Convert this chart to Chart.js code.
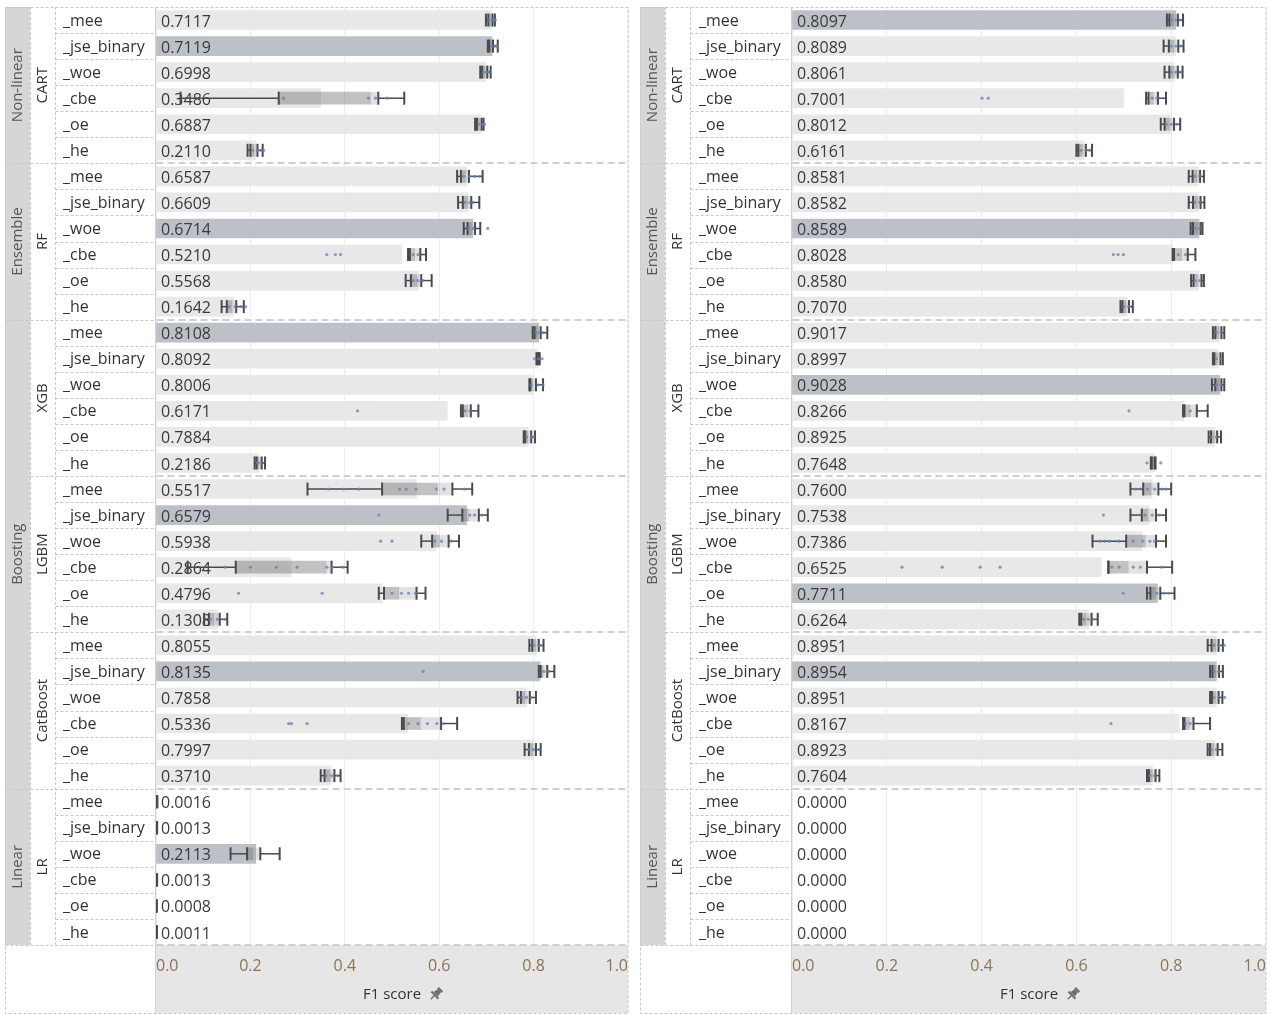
<!DOCTYPE html>
<html>
<head>
<meta charset="utf-8">
<script src="https://cdn.jsdelivr.net/npm/chart.js@4.4.1/dist/chart.umd.min.js"></script>
<style>
  html, body { margin: 0; padding: 0; background: #fff; }
  body { width: 1271px; height: 1015px; position: relative; overflow: hidden; }
  .panel { position: absolute; top: 0; }
  #leftPanel { left: 0; }
  #rightPanel { left: 634px; }
</style>
</head>
<body>
<div class="panel" id="leftPanel"><canvas id="chartLeft" width="634" height="1015"></canvas></div>
<div class="panel" id="rightPanel"><canvas id="chartRight" width="637" height="1015"></canvas></div>
<script>
// ---- data ----------------------------------------------------------------
const encodings = ['_mee', '_jse_binary', '_woe', '_cbe', '_oe', '_he'];
const models = ['CART', 'RF', 'XGB', 'LGBM', 'CatBoost', 'LR'];
const families = ['Non-linear', 'Ensemble', 'Boosting', 'Linear'];
const familyModelCounts = [1, 1, 3, 1];
const xTicks = [0, 0.2, 0.4, 0.6, 0.8, 1.0];
const axisTitle = 'F1 score';

// mean F1 per model / encoding (left and right panels)
const meanLeft = [
  0.7117, 0.7119, 0.6998, 0.3486, 0.6887, 0.2110,
  0.6587, 0.6609, 0.6714, 0.5210, 0.5568, 0.1642,
  0.8108, 0.8092, 0.8006, 0.6171, 0.7884, 0.2186,
  0.5517, 0.6579, 0.5938, 0.2864, 0.4796, 0.1308,
  0.8055, 0.8135, 0.7858, 0.5336, 0.7997, 0.3710,
  0.0016, 0.0013, 0.2113, 0.0013, 0.0008, 0.0011
];
const meanRight = [
  0.8097, 0.8089, 0.8061, 0.7001, 0.8012, 0.6161,
  0.8581, 0.8582, 0.8589, 0.8028, 0.8580, 0.7070,
  0.9017, 0.8997, 0.9028, 0.8266, 0.8925, 0.7648,
  0.7600, 0.7538, 0.7386, 0.6525, 0.7711, 0.6264,
  0.8951, 0.8954, 0.8951, 0.8167, 0.8923, 0.7604,
  0.0000, 0.0000, 0.0000, 0.0000, 0.0000, 0.0000
];

// box plot summaries: [whisker low, q1, median, q3, whisker high]
const boxLeft = [
  [0.699, 0.704, 0.709, 0.713, 0.718], [0.703, 0.706, 0.710, 0.714, 0.724], [0.687, 0.691, 0.697, 0.702, 0.709],
  [0.052, 0.260, 0.454, 0.471, 0.526], [0.676, 0.680, 0.685, 0.690, 0.694], [0.194, 0.200, 0.207, 0.215, 0.226],
  [0.638, 0.646, 0.655, 0.663, 0.692], [0.640, 0.650, 0.660, 0.668, 0.685], [0.652, 0.660, 0.668, 0.676, 0.687],
  [0.534, 0.538, 0.548, 0.560, 0.572], [0.529, 0.540, 0.552, 0.562, 0.584], [0.139, 0.150, 0.160, 0.170, 0.186],
  [0.798, 0.802, 0.808, 0.815, 0.829], [0.806, 0.808, 0.809, 0.811, 0.813], [0.791, 0.793, 0.797, 0.805, 0.820],
  [0.646, 0.650, 0.660, 0.667, 0.683], [0.779, 0.782, 0.788, 0.795, 0.803], [0.209, 0.213, 0.218, 0.224, 0.231],
  [0.321, 0.479, 0.596, 0.628, 0.670], [0.618, 0.649, 0.662, 0.684, 0.703], [0.562, 0.585, 0.600, 0.620, 0.642],
  [0.067, 0.169, 0.360, 0.372, 0.406], [0.472, 0.483, 0.514, 0.552, 0.571], [0.102, 0.112, 0.122, 0.135, 0.151],
  [0.791, 0.797, 0.804, 0.811, 0.821], [0.811, 0.815, 0.820, 0.829, 0.844], [0.766, 0.773, 0.781, 0.792, 0.805],
  [0.521, 0.525, 0.560, 0.604, 0.638], [0.781, 0.790, 0.798, 0.805, 0.815], [0.349, 0.357, 0.368, 0.378, 0.391],
  [0.0008, 0.0012, 0.0016, 0.0020, 0.0030], [0.0005, 0.0009, 0.0013, 0.0017, 0.0025], [0.158, 0.193, 0.205, 0.221, 0.262],
  [0.0005, 0.0009, 0.0013, 0.0017, 0.0024], [0.0002, 0.0005, 0.0008, 0.0011, 0.0016], [0.0004, 0.0008, 0.0011, 0.0014, 0.0020]
];
const boxRight = [
  [0.791, 0.796, 0.805, 0.814, 0.825], [0.784, 0.795, 0.805, 0.815, 0.826], [0.786, 0.796, 0.806, 0.814, 0.824],
  [0.747, 0.752, 0.762, 0.772, 0.789], [0.778, 0.786, 0.796, 0.806, 0.819], [0.600, 0.604, 0.612, 0.620, 0.633],
  [0.837, 0.845, 0.854, 0.861, 0.869], [0.837, 0.846, 0.855, 0.862, 0.870], [0.841, 0.846, 0.856, 0.862, 0.866],
  [0.803, 0.806, 0.822, 0.835, 0.851], [0.842, 0.847, 0.855, 0.864, 0.869], [0.693, 0.697, 0.704, 0.711, 0.719],
  [0.888, 0.893, 0.900, 0.906, 0.912], [0.888, 0.891, 0.897, 0.904, 0.909], [0.886, 0.893, 0.901, 0.906, 0.912],
  [0.825, 0.828, 0.840, 0.854, 0.877], [0.879, 0.884, 0.890, 0.897, 0.905], [0.757, 0.759, 0.762, 0.765, 0.767],
  [0.714, 0.741, 0.757, 0.773, 0.800], [0.714, 0.738, 0.750, 0.768, 0.789], [0.634, 0.705, 0.745, 0.768, 0.789],
  [0.667, 0.668, 0.709, 0.749, 0.802], [0.749, 0.756, 0.766, 0.777, 0.807], [0.606, 0.610, 0.620, 0.632, 0.645],
  [0.877, 0.885, 0.894, 0.900, 0.909], [0.882, 0.887, 0.894, 0.901, 0.909], [0.882, 0.886, 0.893, 0.900, 0.908],
  [0.825, 0.828, 0.838, 0.847, 0.882], [0.877, 0.882, 0.889, 0.898, 0.908], [0.749, 0.753, 0.760, 0.767, 0.775],
  null, null, null, null, null, null
];

// individual run scores
const runsLeft = [
  [0.705, 0.712, 0.716, 0.719], [0.712, 0.718, 0.722], [0.694, 0.700, 0.706],
  [0.270, 0.450, 0.465, 0.490], [0.684, 0.692, 0.696], [0.205, 0.215, 0.222, 0.228],
  [0.652, 0.665, 0.675, 0.685], [0.655, 0.665, 0.672], [0.662, 0.672, 0.703],
  [0.362, 0.380, 0.391, 0.545, 0.555], [0.545, 0.555, 0.565], [0.155, 0.168, 0.180, 0.190],
  [0.805, 0.812, 0.820], [0.802, 0.810, 0.818], [0.795, 0.810, 0.820],
  [0.427, 0.655, 0.665], [0.785, 0.795, 0.800], [0.215, 0.222],
  [0.365, 0.398, 0.430, 0.516, 0.530, 0.551, 0.594, 0.610, 0.653], [0.472, 0.665, 0.675, 0.690], [0.476, 0.500, 0.590, 0.605, 0.625],
  [0.147, 0.200, 0.255, 0.299, 0.362, 0.373, 0.396], [0.175, 0.352, 0.500, 0.520, 0.535, 0.550], [0.115, 0.130, 0.145],
  [0.800, 0.810, 0.815], [0.566, 0.822, 0.832], [0.775, 0.785, 0.795],
  [0.281, 0.287, 0.320, 0.535, 0.555, 0.575, 0.595, 0.610], [0.790, 0.800, 0.812], [0.360, 0.372, 0.385],
  [], [], [], [], [], []
];
const runsRight = [
  [0.800, 0.810, 0.820], [0.800, 0.810, 0.820], [0.800, 0.810, 0.820],
  [0.401, 0.414, 0.760, 0.770], [0.790, 0.800, 0.812], [0.610, 0.620, 0.628],
  [0.850, 0.860], [0.850, 0.860], [0.850, 0.860],
  [0.678, 0.688, 0.699, 0.815, 0.830], [0.850, 0.860], [0.700, 0.710],
  [0.895, 0.905], [0.895, 0.905], [0.895, 0.905],
  [0.711, 0.840], [0.885, 0.895], [0.749, 0.778],
  [0.725, 0.735, 0.750, 0.765, 0.780, 0.790], [0.657, 0.745, 0.760, 0.775], [0.650, 0.660, 0.670, 0.690, 0.720, 0.740, 0.755, 0.765],
  [0.232, 0.317, 0.397, 0.439, 0.675, 0.690, 0.720, 0.735, 0.780], [0.699, 0.770, 0.785, 0.795], [0.615, 0.625, 0.635],
  [0.890, 0.900, 0.912], [0.890, 0.900], [0.890, 0.900, 0.913],
  [0.673, 0.830, 0.840], [0.885, 0.895], [0.755, 0.765],
  [], [], [], [], [], []
];

// ---- drawing -------------------------------------------------------------
const FONT = '"Open Sans", sans-serif';
const rowKeys = models.flatMap(m => encodings.map(e => m + e));

function bestRows(values) {
  const best = new Set();
  for (let m = 0; m < models.length; m++) {
    const block = values.slice(m * encodings.length, (m + 1) * encodings.length);
    const top = Math.max(...block);
    if (top > 0) best.add(m * encodings.length + block.indexOf(top));
  }
  return best;
}

function strokeLine(ctx, x1, y1, x2, y2) {
  ctx.beginPath(); ctx.moveTo(x1, y1); ctx.lineTo(x2, y2); ctx.stroke();
}

const tablePlugin = {
  id: 'tableLayout',
  beforeDraw(chart, args, opts) {
    const { ctx, chartArea, scales: { x } } = chart;
    const g = opts.geo;
    ctx.save();
    ctx.fillStyle = '#d6d6d6';
    ctx.fillRect(g.border, chartArea.top, 25, chartArea.bottom - chartArea.top);
    ctx.fillStyle = '#e6e6e6';
    ctx.fillRect(chartArea.left, chartArea.bottom, chartArea.right - chartArea.left, x.bottom - chartArea.bottom);
    ctx.restore();
  },
  afterDatasetDraw(chart, args, opts) {
    const { ctx, scales: { x, y } } = chart;
    const label = chart.data.datasets[args.index].label;
    if (label === 'mean') {
      // value labels sit inside the bar, left aligned
      ctx.save();
      ctx.font = '16px ' + FONT;
      ctx.fillStyle = '#3a3a3a';
      ctx.textBaseline = 'middle';
      ctx.textAlign = 'left';
      opts.means.forEach((v, i) => {
        ctx.fillText(v.toFixed(4), x.left + 5, y.getPixelForValue(i) + 2);
      });
      ctx.restore();
    }
    if (label === 'upper') {
      // whiskers and caps of each box plot
      ctx.save();
      ctx.strokeStyle = '#4a4a4a';
      opts.boxes.forEach((b, i) => {
        if (!b) return;
        const yc = y.getPixelForValue(i);
        const px = b.map(v => x.getPixelForValue(v));
        ctx.lineWidth = 1.5;
        strokeLine(ctx, px[0], yc, px[1], yc);
        strokeLine(ctx, px[3], yc, px[4], yc);
        ctx.lineWidth = 2;
        [px[0], px[1], px[3], px[4]].forEach(cx => strokeLine(ctx, cx, yc - 6.5, cx, yc + 6.5));
      });
      ctx.restore();
    }
  },
  afterDraw(chart, args, opts) {
    const { ctx, chartArea, scales: { x } } = chart;
    const g = opts.geo;
    const top = chartArea.top, bottom = chartArea.bottom;
    const rowH = (bottom - top) / rowKeys.length;
    const edge = k => Math.round(top + k * rowH) + 0.5;
    const colG = g.border + 0.5, colM = g.border + 25.5, colE = g.border + 50.5, colP = chartArea.left - 0.5;
    const n = encodings.length;
    ctx.save();
    ctx.strokeStyle = '#c8c8c8';
    ctx.lineWidth = 1;
    ctx.setLineDash([3, 2]);
    for (let k = 1; k < rowKeys.length; k++) strokeLine(ctx, colE, edge(k), colP, edge(k));
    for (let m = 1; m < models.length; m++) strokeLine(ctx, colM, edge(m * n), colE, edge(m * n));
    let acc = 0;
    familyModelCounts.forEach(c => {
      acc += c;
      if (acc < models.length) strokeLine(ctx, colG, edge(acc * n), colM, edge(acc * n));
    });
    strokeLine(ctx, colM, top, colM, bottom);
    strokeLine(ctx, colE, top, colE, bottom);
    strokeLine(ctx, colG, bottom + 0.5, colP, bottom + 0.5);
    ctx.strokeRect(colG, top + 0.5, chartArea.right - colG, x.bottom - top);
    ctx.setLineDash([]);
    ctx.strokeStyle = '#d2d2d2';
    strokeLine(ctx, colP, top, colP, x.bottom);
    ctx.setLineDash([7, 4]);
    ctx.lineWidth = 2;
    ctx.strokeStyle = '#cfcfcf';
    for (let m = 1; m <= models.length; m++) {
      const yy = Math.round(top + m * n * rowH);
      strokeLine(ctx, colP + 1, yy, chartArea.right, yy);
    }
    ctx.setLineDash([]);

    // rotated family and model headers
    ctx.font = '15px ' + FONT;
    ctx.textAlign = 'center';
    ctx.textBaseline = 'middle';
    acc = 0;
    families.forEach((name, f) => {
      const y0 = top + acc * n * rowH;
      acc += familyModelCounts[f];
      const y1 = top + acc * n * rowH;
      ctx.save();
      ctx.translate(g.border + 13, (y0 + y1) / 2);
      ctx.rotate(-Math.PI / 2);
      ctx.fillStyle = '#555';
      ctx.fillText(name, 0, 0);
      ctx.restore();
    });
    models.forEach((name, m) => {
      const yc = top + (m + 0.5) * n * rowH;
      ctx.save();
      ctx.translate(g.border + 38, yc);
      ctx.rotate(-Math.PI / 2);
      ctx.fillStyle = '#333';
      ctx.fillText(name, 0, 0);
      ctx.restore();
    });

    // pin next to the axis title
    ctx.font = '15px ' + FONT;
    const tw = ctx.measureText(axisTitle).width;
    const cx = (chartArea.left + chartArea.right) / 2 + tw / 2 + 15;
    const cy = x.bottom - 19;
    ctx.translate(cx, cy);
    ctx.rotate(Math.PI / 4);
    ctx.fillStyle = '#6b717b';
    ctx.fillRect(-3, -7, 6, 2.5);
    ctx.beginPath();
    ctx.moveTo(-2.2, -4.5); ctx.lineTo(2.2, -4.5); ctx.lineTo(3.2, 0.5); ctx.lineTo(-3.2, 0.5);
    ctx.closePath(); ctx.fill();
    ctx.fillRect(-5, 0.5, 10, 2.2);
    ctx.fillRect(-0.7, 2.5, 1.4, 5);
    ctx.restore();
  }
};

function buildPanel(canvasId, geo, means, boxes, runs) {
  const best = bestRows(means);
  const dots = [];
  runs.forEach((list, i) => list.forEach(v => dots.push({ x: v, y: rowKeys[i] })));
  return new Chart(document.getElementById(canvasId), {
    type: 'bar',
    data: {
      labels: rowKeys,
      datasets: [
        { label: 'mean', data: means, order: 3, grouped: false, barThickness: 19,
          backgroundColor: means.map((v, i) => best.has(i) ? '#bcc1c8' : '#e8e8e8') },
        { label: 'lower', data: boxes.map(b => b ? [b[1], b[2]] : null), order: 2, grouped: false,
          barThickness: 12, backgroundColor: 'rgba(110,110,110,0.42)' },
        { label: 'upper', data: boxes.map(b => b ? [b[2], b[3]] : null), order: 1, grouped: false,
          barThickness: 12, backgroundColor: 'rgba(150,150,150,0.28)' },
        { label: 'runs', type: 'line', indexAxis: 'y', data: dots, order: 0, showLine: false,
          pointRadius: 1.6, pointHoverRadius: 0, pointBorderWidth: 0,
          pointBackgroundColor: 'rgba(95,130,185,0.75)' }
      ]
    },
    options: {
      indexAxis: 'y',
      responsive: false,
      devicePixelRatio: 1,
      animation: false,
      events: [],
      layout: { padding: { left: geo.encText, right: geo.width - geo.plotRight, top: 7, bottom: 2 } },
      plugins: {
        legend: { display: false },
        tooltip: { enabled: false },
        tableLayout: { geo, means, boxes }
      },
      scales: {
        x: {
          type: 'linear', min: 0, max: 1, position: 'bottom',
          afterBuildTicks: s => { s.ticks = xTicks.map(v => ({ value: v })); },
          afterFit: s => { s.height = 68; s.paddingLeft = 0; s.paddingRight = 0; },
          ticks: { align: 'inner', padding: 12, color: '#8e7453', maxRotation: 0, autoSkip: false,
                   font: { family: FONT, size: 16 }, callback: v => Number(v).toFixed(1) },
          grid: { color: '#ececec', drawTicks: false, lineWidth: 1 },
          border: { display: false },
          title: { display: true, text: axisTitle, color: '#333', font: { family: FONT, size: 15 },
                   padding: { top: 0, bottom: 9 } }
        },
        y: {
          type: 'category', position: 'left', offset: true,
          afterFit: s => { s.width = geo.plotLeft - geo.encText; s.paddingTop = 0; s.paddingBottom = 0; },
          ticks: { crossAlign: 'far', padding: 0, labelOffset: 1, color: '#333', autoSkip: false,
                   font: { family: FONT, size: 16 }, callback: (v, i) => encodings[i % encodings.length] },
          grid: { display: false },
          border: { display: false }
        }
      }
    },
    plugins: [tablePlugin]
  });
}

buildPanel('chartLeft', { border: 5, encText: 63, plotLeft: 156, plotRight: 628, width: 634 },
           meanLeft, boxLeft, runsLeft);
buildPanel('chartRight', { border: 6, encText: 65, plotLeft: 158, plotRight: 632, width: 637 },
           meanRight, boxRight, runsRight);
</script>
</body>
</html>
